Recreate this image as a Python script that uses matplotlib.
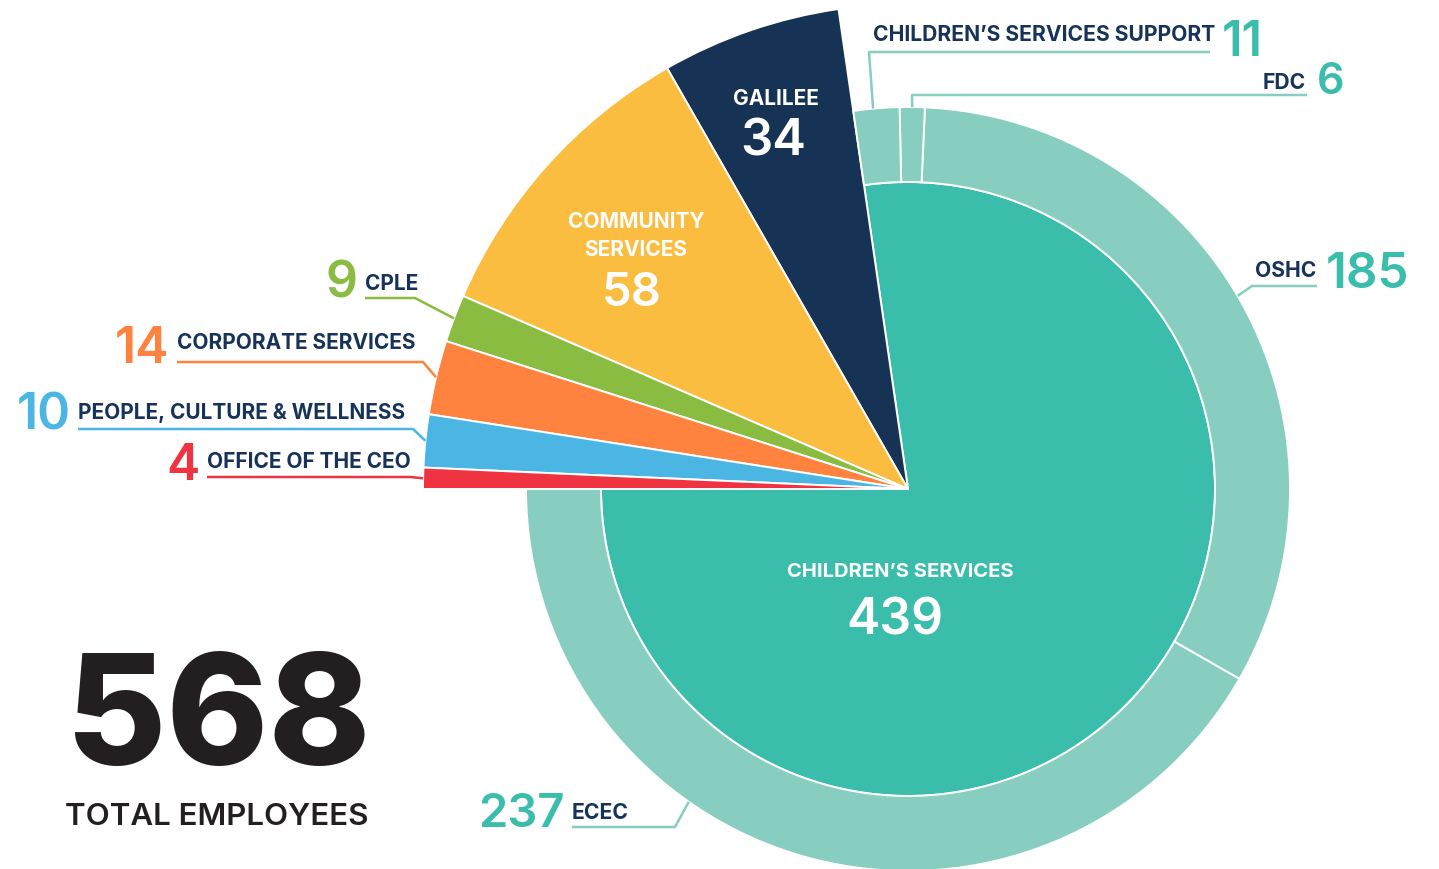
import matplotlib
matplotlib.use("Agg")
import numpy as np
import matplotlib.pyplot as plt

# ---- Headcount by division -------------------------------------------------
divisions = ["CHILDREN\u2019S SERVICES", "GALILEE", "COMMUNITY\nSERVICES", "CPLE",
             "CORPORATE SERVICES", "PEOPLE, CULTURE & WELLNESS", "OFFICE OF THE CEO"]
division_counts = [439, 34, 58, 9, 14, 10, 4]
division_colors = ["#3BBDAB", "#163356", "#FBBD40", "#89BC41",
                   "#FF833F", "#4BB6E3", "#EF3340"]

# ---- Children's Services broken down by program (outer ring) ---------------
programs = ["ECEC", "OSHC", "FDC", "CHILDREN\u2019S SERVICES SUPPORT"]
program_counts = [237, 185, 6, 11]
ring_color = "#87CEC0"

total_employees = sum(division_counts)

NAVY = "#17335A"
TEAL = "#3BBDAB"
INK = "#231F20"
FONT = "Inter"

fig = plt.figure(figsize=(14.39, 8.70), dpi=100)
ax = fig.add_axes([0, 0, 1, 1])

# pixel-like data space, y grows downward
cx, cy = 908, 490
r_outer, r_core, r_ring = 485, 307, 382

wedges, _ = ax.pie(division_counts, colors=division_colors, startangle=180,
                   counterclock=False, radius=r_outer, center=(cx, cy),
                   wedgeprops=dict(edgecolor="white", linewidth=1.4))
# Children's Services sits inside its own program ring
wedges[0].set_radius(r_core)

# ring spans only the Children's Services share of the circle
ring_shares = [c / total_employees for c in program_counts]
ring, _ = ax.pie(ring_shares, normalize=False,
                 colors=[ring_color] * len(program_counts),
                 startangle=180, counterclock=False, radius=r_ring, center=(cx, cy),
                 wedgeprops=dict(width=r_ring - r_core, edgecolor="white", linewidth=1.4))

ax.set_xlim(0, 1439)
ax.set_ylim(870, 0)
ax.set_aspect("equal")
ax.axis("off")


def anchor(w, frac=0.5):
    a = np.deg2rad(w.theta1 + frac * (w.theta2 - w.theta1))
    return cx + w.r * np.cos(a), cy + w.r * np.sin(a)


def txt(x, y, s, size, color, ha="left", weight="bold"):
    ax.text(x, y, s, fontsize=size, color=color, ha=ha, va="baseline",
            family=FONT, fontweight=weight)


# ---- labels inside the wedges ---------------------------------------------
txt(776, 105, divisions[1], 15, "white", ha="center")
txt(773, 155, f"{division_counts[1]}", 36.5, "white", ha="center", weight="semibold")

for i, line in enumerate(divisions[2].split("\n")):
    txt(636, 228 + 28 * i, line, 15, "white", ha="center")
txt(632, 306, f"{division_counts[2]}", 34, "white", ha="center", weight="semibold")

txt(900, 577, divisions[0], 14.5, "white", ha="center")
txt(895, 635, f"{division_counts[0]}", 36, "white", ha="center", weight="semibold")

# ---- small divisions, labelled on the left ---------------------------------
# (number right edge, number baseline, name x, name baseline, leader y, leader end x)
left_layout = {
    3: (358, 298, 365, 290, 299, 415),
    4: (169, 363, 177, 349, 363, 423),
    5: (71, 430, 78, 419, 430, 413),
    6: (200, 480, 207, 468, 478, 410),
}
for i, (nx, nb, tx, lb, ly, lx) in left_layout.items():
    txt(nx, nb, f"{division_counts[i]}", 36, division_colors[i], ha="right",
        weight="semibold")
    txt(tx, lb, divisions[i], 15, NAVY)
    ax_, ay_ = anchor(wedges[i])
    ax.plot([tx, lx, ax_], [ly, ly, ay_], color=division_colors[i],
            lw=1.8, solid_capstyle="butt", zorder=1)

# ---- Children's Services programs on the ring ------------------------------
# (name x, name baseline, number x, number baseline, number size,
#  leader y, leader x from, leader x to, anchor fraction)
ring_layout = {
    3: (873, 41, 1222, 56, 35, 53, 1210, 869, 0.43),
    2: (1263, 89, 1317, 94, 31, 96, 1307, 912, 0.5),
    1: (1255, 277, 1326, 288, 35.5, 287, 1317, 1252, 0.487),
    0: (572, 819, 478, 827, 34, 828, 572, 675, 0.634),
}
for i, (tx, tb, nx, nb, ns, ly, l0, l1, f) in ring_layout.items():
    txt(tx, tb, programs[i], 15.2, NAVY)
    txt(nx, nb, f"{program_counts[i]}", ns, TEAL, weight="semibold")
    ax_, ay_ = anchor(ring[i], f)
    ax.plot([l0, l1, ax_], [ly, ly, ay_], color=ring_color, lw=1.8,
            solid_capstyle="butt", zorder=1)

# ---- headline total --------------------------------------------------------
txt(218, 765, f"{total_employees}", 111, INK, ha="center", weight="heavy")
txt(217, 825, "TOTAL EMPLOYEES", 22.5, INK, ha="center", weight="semibold")

fig.savefig("out.png", dpi=100, facecolor="white")
